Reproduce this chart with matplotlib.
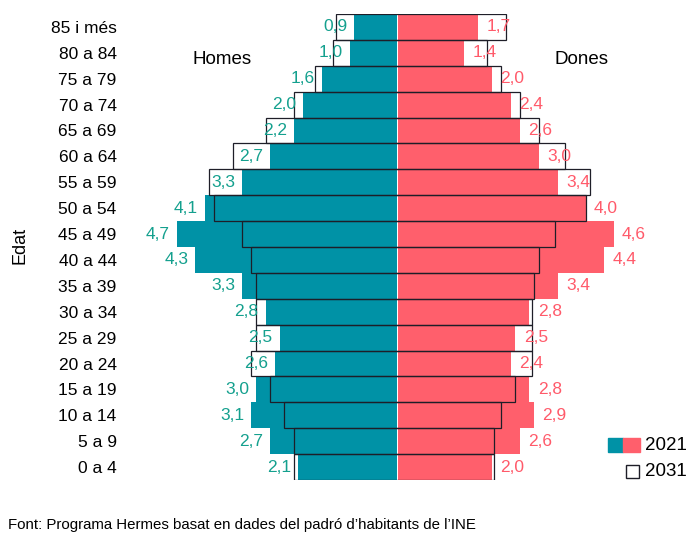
import matplotlib.pyplot as plt
from matplotlib.patches import Rectangle

plt.rcParams['font.family'] = ['Liberation Sans', 'DejaVu Sans']

# Age groups, bottom to top
ages = ['0 a 4', '5 a 9', '10 a 14', '15 a 19', '20 a 24', '25 a 29', '30 a 34',
        '35 a 39', '40 a 44', '45 a 49', '50 a 54', '55 a 59', '60 a 64',
        '65 a 69', '70 a 74', '75 a 79', '80 a 84', '85 i més']

# Percentage of population, 2021 (filled) and 2031 (outline)
men_2021 = [2.1, 2.7, 3.1, 3.0, 2.6, 2.5, 2.8, 3.3, 4.3, 4.7, 4.1, 3.3, 2.7,
            2.2, 2.0, 1.6, 1.0, 0.9]
women_2021 = [2.0, 2.6, 2.9, 2.8, 2.4, 2.5, 2.8, 3.4, 4.4, 4.6, 4.0, 3.4, 3.0,
              2.6, 2.4, 2.0, 1.4, 1.7]
men_2031 = [2.2, 2.2, 2.4, 2.7, 3.1, 3.0, 3.0, 3.0, 3.1, 3.3, 3.9, 4.0, 3.5,
            2.8, 2.2, 1.75, 1.35, 1.3]
women_2031 = [2.05, 2.05, 2.2, 2.5, 2.85, 2.85, 2.85, 2.9, 3.0, 3.35, 4.0, 4.1,
              3.55, 3.0, 2.6, 2.2, 1.9, 2.3]

teal = '#0092a6'
pink = '#ff5f6c'
teal_txt = '#14a08e'
pink_txt = '#ff5a6a'
edge = '#1e1e28'
gap = 0.02

fig = plt.figure(figsize=(6.95, 5.45), dpi=100)
ax = fig.add_axes([125 / 695, 65 / 545, 540 / 695, 466 / 545])

y = list(range(len(ages)))

# 2021 filled bars
ax.barh(y, [-v for v in men_2021], left=-gap, height=1.0, color=teal, zorder=1)
ax.barh(y, women_2021, left=gap, height=1.0, color=pink, zorder=1)

# 2031 outline (three sides, no line at the centre)
for i in y:
    xm = -gap - men_2031[i]
    ax.plot([-gap, xm, xm, -gap], [i + 0.5, i + 0.5, i - 0.5, i - 0.5],
            color=edge, lw=0.9, zorder=2, solid_joinstyle='miter')
    xw = gap + women_2031[i]
    ax.plot([gap, xw, xw, gap], [i + 0.5, i + 0.5, i - 0.5, i - 0.5],
            color=edge, lw=0.9, zorder=2, solid_joinstyle='miter')

# value labels for 2021
for i in y:
    ax.annotate(f'{men_2021[i]:.1f}'.replace('.', ','), (-gap - men_2021[i], i),
                xytext=(-5, 0), textcoords='offset points', ha='right', va='center',
                color=teal_txt, fontsize=12.5, zorder=3)
    ax.annotate(f'{women_2021[i]:.1f}'.replace('.', ','), (gap + women_2021[i], i),
                xytext=(6, 0), textcoords='offset points', ha='left', va='center',
                color=pink_txt, fontsize=12.5, zorder=3)

ax.set_xlim(-(397.5 - 125) / 46.8, (665 - 397.5) / 46.8)
ax.set_ylim(-0.5, len(ages) - 0.5)
ax.set_yticks(y)
ax.set_yticklabels(ages, fontsize=12.5)
ax.tick_params(axis='y', length=0, pad=6)
ax.set_xticks([])
for s in ax.spines.values():
    s.set_visible(False)

fig.text(20 / 695, 1 - 245 / 545, 'Edat', rotation=90, ha='center', va='center', fontsize=13)
fig.text(222 / 695, 1 - 60 / 545, 'Homes', ha='center', va='center', fontsize=13.5)
fig.text(582 / 695, 1 - 60 / 545, 'Dones', ha='center', va='center', fontsize=13.5)

# legend
fig.patches.append(Rectangle((608 / 695, 1 - 452 / 545), 15 / 695, 14 / 545,
                             transform=fig.transFigure, color=teal))
fig.patches.append(Rectangle((623 / 695, 1 - 452 / 545), 17 / 695, 14 / 545,
                             transform=fig.transFigure, color=pink))
fig.patches.append(Rectangle((626 / 695, 1 - 478 / 545), 13 / 695, 13 / 545,
                             transform=fig.transFigure, facecolor='white',
                             edgecolor=edge, lw=1.0))
fig.text(645 / 695, 1 - 445 / 545, '2021', ha='left', va='center', fontsize=13.5)
fig.text(645 / 695, 1 - 472 / 545, '2031', ha='left', va='center', fontsize=13.5)

fig.text(8 / 695, 1 - 525 / 545,
         'Font: Programa Hermes basat en dades del padró d\u2019habitants de l\u2019INE',
         ha='left', va='center', fontsize=10.8)

fig.savefig('out.png', dpi=100)
